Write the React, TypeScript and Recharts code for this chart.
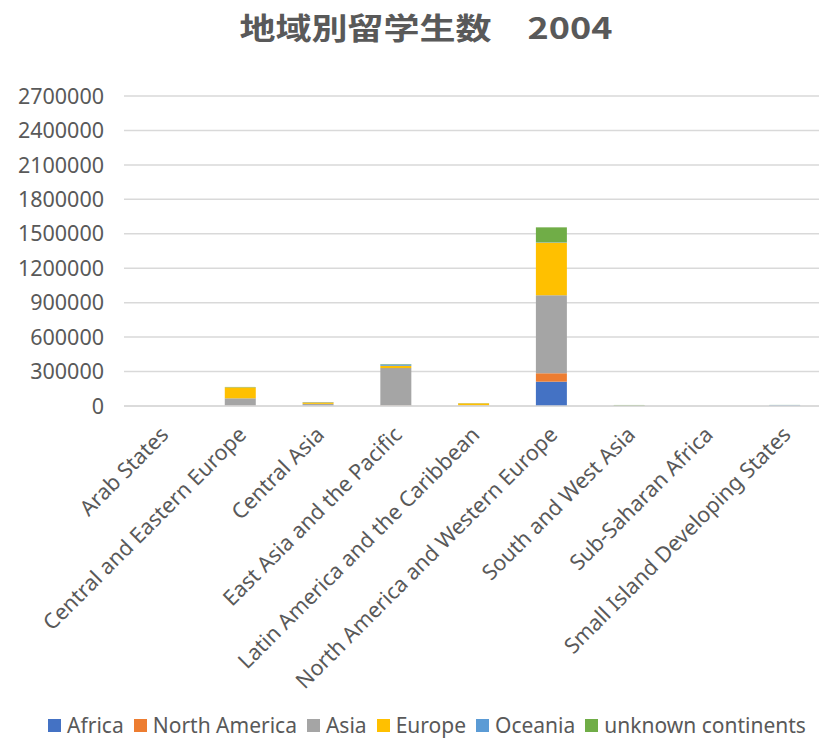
import React from 'react';
import { BarChart, Bar, XAxis, YAxis, CartesianGrid, Legend } from 'recharts';

// 地域別留学生数 2004 — students by host region, split by continent of origin
const regions = [
  'Arab States',
  'Central and Eastern Europe',
  'Central Asia',
  'East Asia and the Pacific',
  'Latin America and the Caribbean',
  'North America and Western Europe',
  'South and West Asia',
  'Sub-Saharan Africa',
  'Small Island Developing States',
];

const africa = [0, 3000, 1000, 2000, 500, 212000, 500, 0, 500];
const northAmerica = [0, 2000, 500, 3000, 2000, 73000, 500, 0, 500];
const asia = [0, 62000, 17000, 325000, 3000, 679000, 1000, 0, 1000];
const europe = [0, 95000, 13000, 20000, 18000, 458000, 500, 0, 1000];
const oceania = [0, 1000, 3000, 12000, 1000, 3000, 500, 0, 6000];
const unknown = [0, 3000, 500, 3000, 500, 131000, 6000, 0, 500];

const yTicks = [0, 300000, 600000, 900000, 1200000, 1500000, 1800000, 2100000, 2400000, 2700000];

const series = [
  { key: 'Africa', values: africa, color: '#4472C4' },
  { key: 'North America', values: northAmerica, color: '#ED7D31' },
  { key: 'Asia', values: asia, color: '#A5A5A5' },
  { key: 'Europe', values: europe, color: '#FFC000' },
  { key: 'Oceania', values: oceania, color: '#5B9BD5' },
  { key: 'unknown continents', values: unknown, color: '#70AD47' },
];

const data = regions.map((region, i) => {
  const row: any = { region };
  series.forEach((s) => (row[s.key] = s.values[i]));
  return row;
});

const FONT = '"Noto Sans", sans-serif';
const TEXT = '#595959';

const RotatedTick = ({ x, y, payload }: any) => {
  const ax = x + 7;
  const ay = y + 22;
  return (
    <text
      x={ax}
      y={ay}
      transform={`rotate(-45, ${ax}, ${ay})`}
      textAnchor="end"
      fill={TEXT}
      fontSize={21.5}
      fontFamily={FONT}
    >
      {payload.value}
    </text>
  );
};

// legend kept in series order (not sorted)
const LegendContent = () => (
  <div
    style={{
      height: 40,
      paddingTop: 10,
      boxSizing: 'border-box',
      display: 'flex',
      justifyContent: 'center',
      alignItems: 'center',
      gap: 10,
      fontFamily: FONT,
      fontSize: 21,
      color: TEXT,
      lineHeight: '28px',
      marginLeft: 30,
    }}
  >
    {series.map((s) => (
      <span key={s.key} style={{ display: 'flex', alignItems: 'center', gap: 6 }}>
        <span style={{ width: 13, height: 13, background: s.color, display: 'inline-block' }} />
        {s.key}
      </span>
    ))}
  </div>
);

export default function App() {
  return (
    <div style={{ position: 'absolute', left: 0, top: 0, width: 819, height: 740, background: '#fff', overflow: 'hidden' }}>
      <div
        style={{
          position: 'absolute',
          top: 4,
          left: 426,
          transform: 'translateX(-50%) scaleX(1.2)',
          whiteSpace: 'nowrap',
          fontFamily: '"Noto Sans CJK JP", sans-serif',
          fontWeight: 'bold',
          fontSize: 30,
          color: TEXT,
        }}
      >
        地域別留学生数　2004
      </div>
      <BarChart
        width={819}
        height={740}
        data={data}
        margin={{ top: 96, right: -5, bottom: 0, left: 0 }}
        barSize={31}
      >
        <CartesianGrid vertical={false} stroke="#d9d9d9" strokeWidth={1.5} />
        <XAxis
          dataKey="region"
          interval={0}
          tick={<RotatedTick />}
          tickLine={false}
          axisLine={{ stroke: '#d9d9d9', strokeWidth: 1.5 }}
          height={294}
        />
        <YAxis
          width={124}
          domain={[0, 2700000]}
          ticks={yTicks}
          tickLine={false}
          axisLine={false}
          tickSize={0}
          tickMargin={20}
          tick={{ fill: TEXT, fontSize: 21.5, fontFamily: FONT }}
        />
        <Legend verticalAlign="bottom" content={<LegendContent />} />
        {series.map((s) => (
          <Bar key={s.key} dataKey={s.key} stackId="a" fill={s.color} isAnimationActive={false} />
        ))}
      </BarChart>
    </div>
  );
}
